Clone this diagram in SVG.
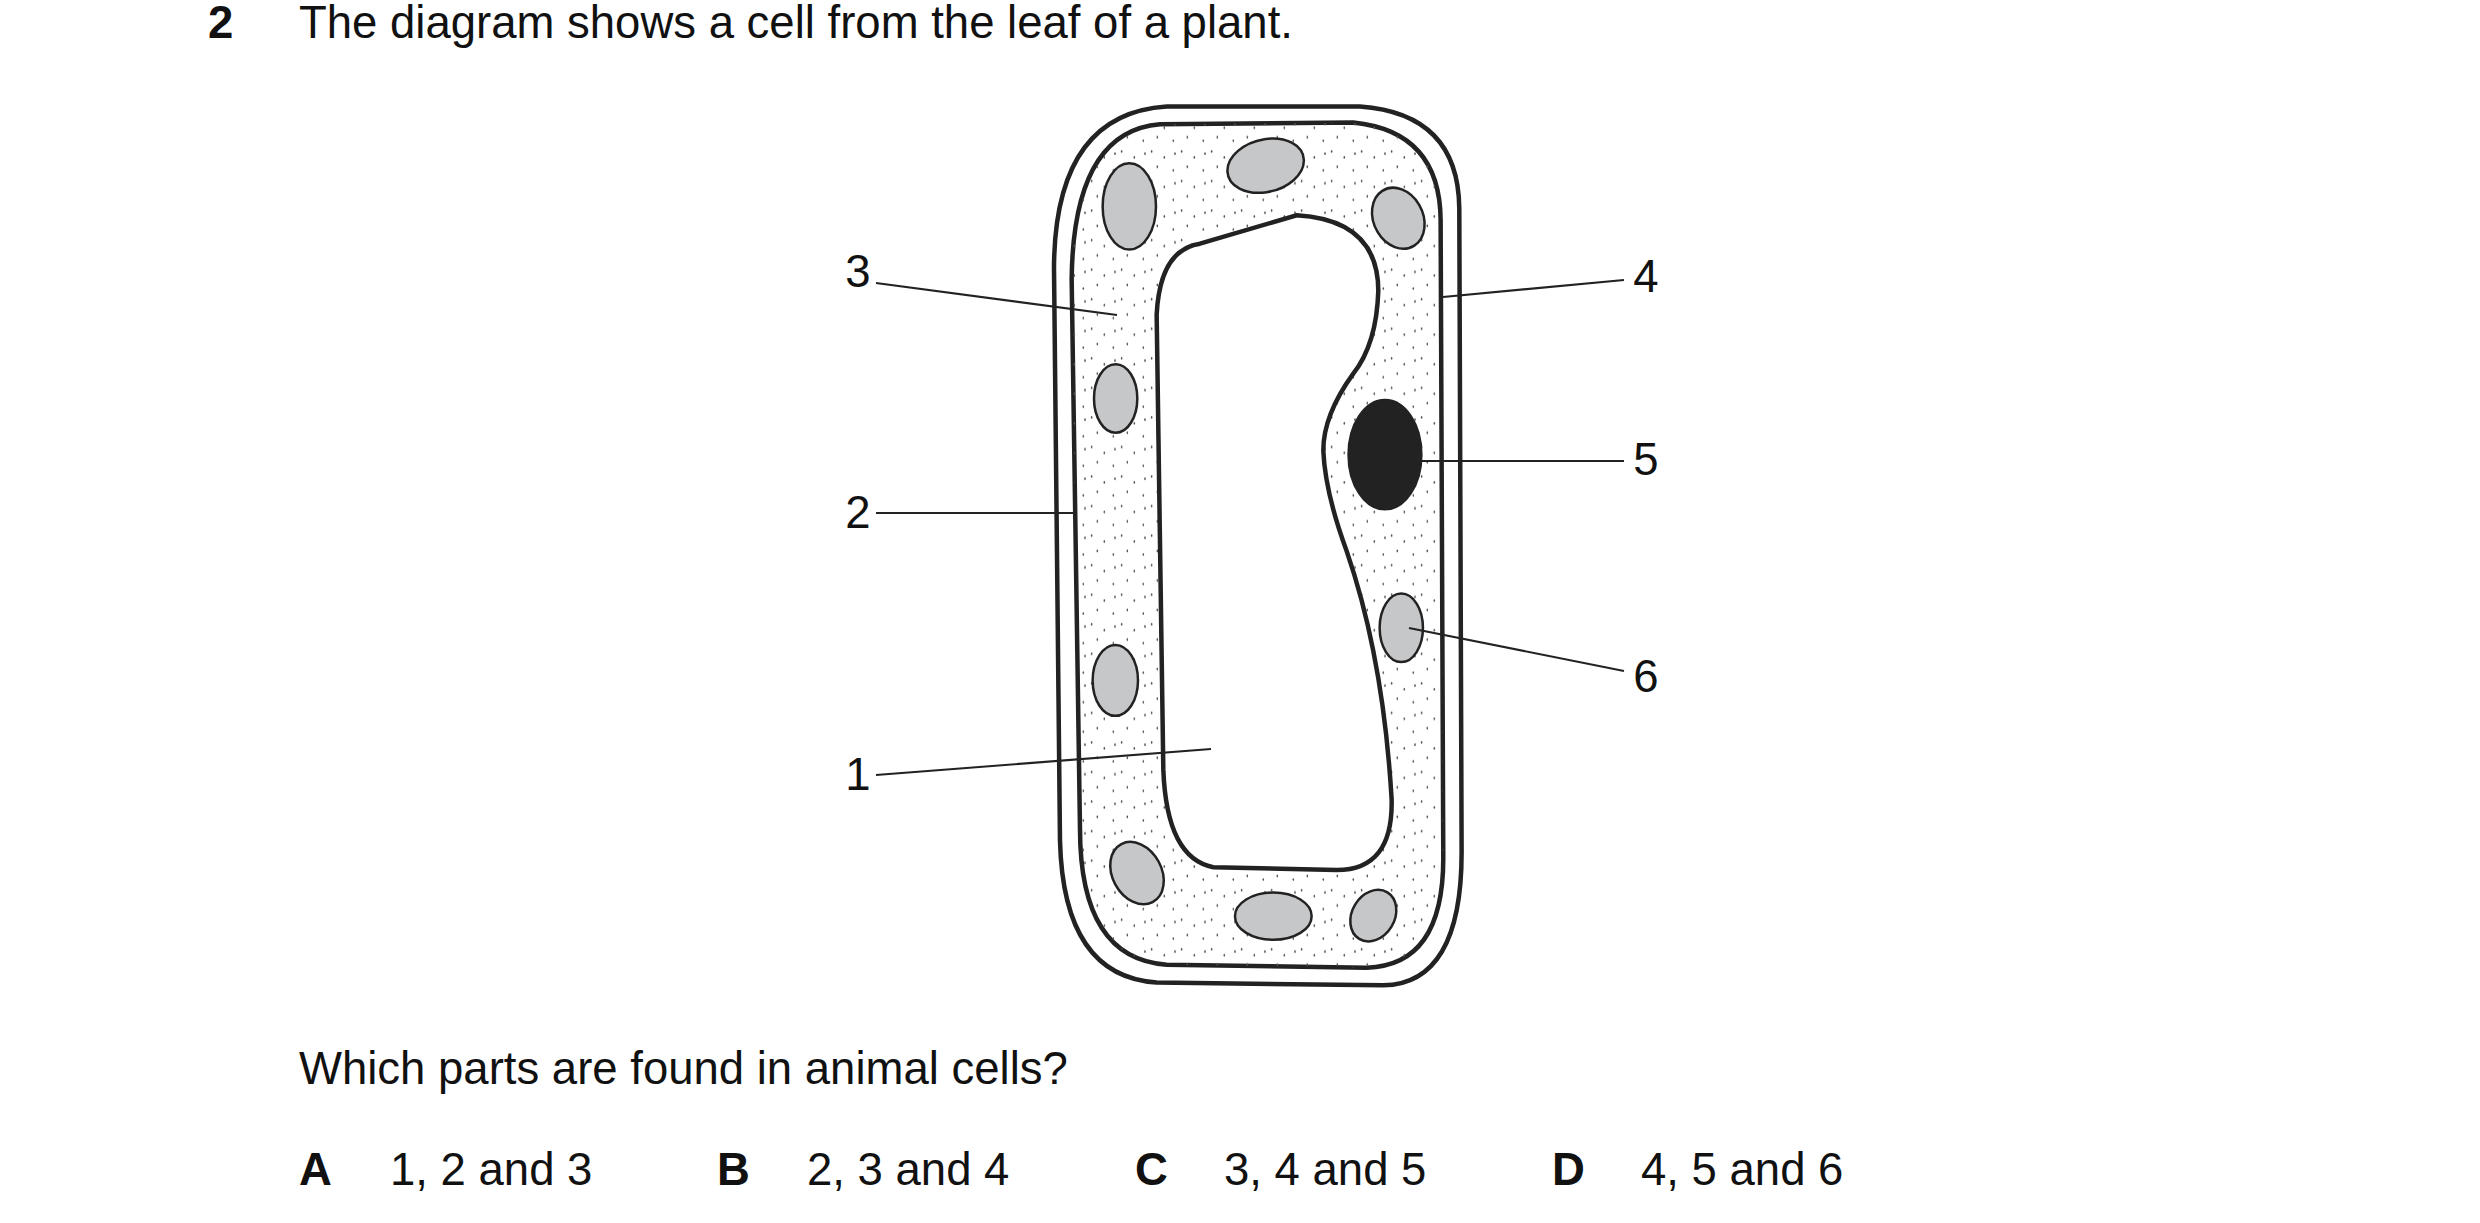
<svg xmlns="http://www.w3.org/2000/svg" width="2480" height="1223" viewBox="0 0 2480 1223">
<style>
text{font-family:"Liberation Sans",Arial,sans-serif;font-size:45.5px;fill:#111}
.b{font-weight:bold}
.ln{stroke:#222;stroke-width:2.2;fill:none}
.th{stroke:#222;stroke-width:4.5;vector-effect:non-scaling-stroke}
.ch{fill:#c6c7c9;stroke:#222;stroke-width:2.5;vector-effect:non-scaling-stroke}
</style>
<defs>
<pattern id="dots" patternUnits="userSpaceOnUse" width="90" height="50">
<circle cx="5" cy="4" r="2.4" fill="#555"/><circle cx="43" cy="14" r="2.4" fill="#555"/><circle cx="22" cy="30" r="2.4" fill="#555"/><circle cx="70" cy="36" r="2.4" fill="#555"/><circle cx="75" cy="8" r="2.4" fill="#555"/>
</pattern>
</defs>
<rect width="2480" height="1223" fill="#fff"/>
<text x="208" y="38" class="b">2</text>
<text x="299" y="38">The diagram shows a cell from the leaf of a plant.</text>
<g id="cell" transform="translate(1000,90) scale(0.3333,0.591)">
<g id="wall"><path class="th" fill="#fff" d="M500,28 L1080,28 Q1375,40 1378,200 L1385,1290 Q1385,1512 1150,1515 L470,1510 Q190,1500 180,1270 L162,300 Q165,40 500,28 Z"/></g>
<g id="membrane"><path class="th" fill="#fff" d="M480,58 L1060,55 Q1320,70 1322,220 L1330,1300 Q1330,1482 1100,1485 L500,1480 Q240,1470 240,1250 L215,320 Q220,70 480,58 Z"/>
<path fill="url(#dots)" d="M480,58 L1060,55 Q1320,70 1322,220 L1330,1300 Q1330,1482 1100,1485 L500,1480 Q240,1470 240,1250 L215,320 Q220,70 480,58 Z"/></g>
<g id="vacuole"><path class="th" fill="#fff" d="M600,260 L890,212 Q1135,220 1135,340 Q1130,430 1060,480 Q970,550 970,610 Q975,680 1040,780 Q1150,960 1175,1200 Q1180,1320 1010,1320 L640,1315 Q500,1300 490,1150 L470,380 Q480,270 600,260 Z"/></g>
<g id="nucleus"><ellipse cx="1155" cy="617" rx="110" ry="93" fill="#222" stroke="#222" stroke-width="2" vector-effect="non-scaling-stroke"/></g>
<g id="chloroplasts">
<ellipse class="ch" cx="388" cy="197" rx="80" ry="73"/>
<ellipse class="ch" cx="797" cy="128" rx="115" ry="45" transform="rotate(-5 797 128)"/>
<ellipse class="ch" cx="1195" cy="217" rx="80" ry="50" transform="rotate(12 1195 217)"/>
<ellipse class="ch" cx="347" cy="522" rx="65" ry="58"/>
<ellipse class="ch" cx="346" cy="999" rx="68" ry="60"/>
<ellipse class="ch" cx="411" cy="1325" rx="82" ry="50" transform="rotate(15 411 1325)"/>
<ellipse class="ch" cx="820" cy="1398" rx="115" ry="40"/>
<ellipse class="ch" cx="1120" cy="1397" rx="70" ry="42" transform="rotate(-12 1120 1397)"/>
<ellipse class="ch" cx="1204" cy="910" rx="65" ry="58"/>
</g>
</g>
<g id="connectors">
<line class="ln" x1="876" y1="283" x2="1117" y2="315"/>
<line class="ln" x1="876" y1="513" x2="1074" y2="513"/>
<line class="ln" x1="876" y1="775" x2="1211" y2="749"/>
<line class="ln" x1="1443" y1="297" x2="1624" y2="280"/>
<line class="ln" x1="1422" y1="461" x2="1624" y2="461"/>
<line class="ln" x1="1409" y1="628" x2="1624" y2="671"/>
</g>
<g id="labels">
<text x="858" y="287" text-anchor="middle">3</text>
<text x="858" y="528" text-anchor="middle">2</text>
<text x="858" y="790" text-anchor="middle">1</text>
<text x="1646" y="292" text-anchor="middle">4</text>
<text x="1646" y="475" text-anchor="middle">5</text>
<text x="1646" y="692" text-anchor="middle">6</text>
</g>
<text x="299" y="1084">Which parts are found in animal cells?</text>
<text x="299" y="1185" class="b">A</text><text x="390" y="1185">1, 2 and 3</text>
<text x="717" y="1185" class="b">B</text><text x="807" y="1185">2, 3 and 4</text>
<text x="1135" y="1185" class="b">C</text><text x="1224" y="1185">3, 4 and 5</text>
<text x="1552" y="1185" class="b">D</text><text x="1641" y="1185">4, 5 and 6</text>
</svg>
